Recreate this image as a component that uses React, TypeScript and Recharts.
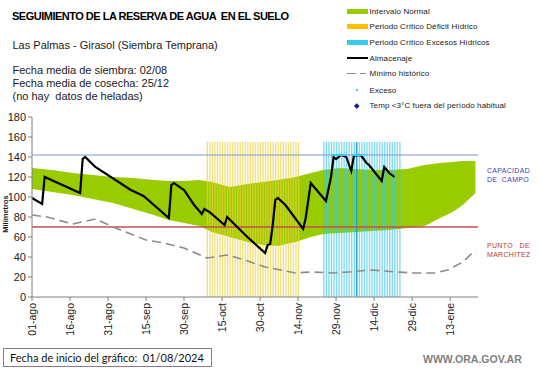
import { ComposedChart, Area, Bar, Line, Scatter, XAxis, YAxis, ReferenceLine } from 'recharts';

const FONT = '"Liberation Sans", Arial, sans-serif';

// days counted from 01/08/2024
const TICK_DAYS = [0, 15, 30, 45, 60, 75, 90, 105, 120, 135, 150, 165];
const TICK_LABELS = ['01-ago', '16-ago', '31-ago', '15-sep', '30-sep', '15-oct', '30-oct', '14-nov', '29-nov', '14-dic', '29-dic', '13-ene'];
const Y_TICKS = [0, 20, 40, 60, 80, 100, 120, 140, 160, 180];

// Intervalo Normal
const BAND_DAYS = [0, 8, 16, 24, 32, 40, 48, 54, 60, 66, 71, 78, 85, 91, 97, 104, 110, 115, 121, 128, 134, 141, 148, 155, 161, 166, 170, 175];
const BAND_LOW = [108, 105, 102, 98, 94, 88, 82, 77, 74, 71, 65, 60, 55, 52, 51, 55, 60, 63, 64, 65, 66, 67, 69, 71, 79, 85, 92, 104];
const BAND_HIGH = [129, 127, 124, 122, 120, 119, 117, 116, 116, 117, 115, 110, 113, 115, 117, 120, 124, 127, 129, 128, 127, 127, 128, 132, 134, 135, 136, 136];

// Almacenaje
const STORAGE_DAYS = [0, 4, 5, 19, 20, 21, 25, 39, 44, 54, 55, 56, 60, 64, 67, 68, 70, 76, 77, 79, 85, 92, 93, 94, 95, 96, 97, 100, 107, 108, 110, 116, 118, 119, 120, 121, 122, 124, 126, 127, 129, 130, 132, 133, 138, 139, 141, 143];
const STORAGE_VALUES = [99, 93, 120, 104, 138, 140, 130, 107, 101, 79, 112, 114, 107, 92, 83, 88, 85, 72, 80, 75, 60, 44, 52, 53, 72, 97, 99, 92, 68, 79, 114, 96, 120, 140, 138, 140, 142, 140, 126, 141, 142, 141, 134, 132, 116, 130, 124, 120];

// Mínimo histórico
const MIN_DAYS = [0, 6, 16, 25, 33, 45, 52, 60, 69, 77, 84, 92, 104, 110, 119, 125, 134, 144, 151, 159, 164, 170, 175];
const MIN_VALUES = [82, 80, 73, 78, 69, 57, 54, 49, 39, 42, 37, 30, 24, 25, 24, 25, 27, 25, 24, 24, 27, 35, 47];

// critical periods (first and last day)
const DEFICIT_PERIOD = [69, 105];
const EXCESS_PERIOD = [115, 145];
const CRITICAL_TOP = 155;
const HIGHLIGHT_DAY = 128;

// Exceso markers
const EXCESO_DAYS = [119, 120, 121, 122, 123, 127, 128, 129, 130];
const EXCESO_VALUE = 142;

const FIELD_CAPACITY = 142;
const WILTING_POINT = 70;

const LEGEND = [
  { label: 'Intervalo Normal', kind: 'rect', color: '#99cc00' },
  { label: 'Periodo Crítico Déficit Hídrico', kind: 'rect', color: '#ffc000' },
  { label: 'Periodo Crítico Excesos Hídricos', kind: 'rect', color: '#33ccee' },
  { label: 'Almacenaje', kind: 'line', color: '#000' },
  { label: 'Mínimo histórico', kind: 'dash', color: '#8c8c8c' },
  { label: 'Exceso', kind: 'dot', color: '#33ccee' },
  { label: 'Temp <3°C fuera del período habitual', kind: 'diamond', color: '#1a1a9a' },
];
const LEGEND_ROWS = [11.7, 26.7, 42.7, 58.3, 73.3, 90, 105.7];

function buildRows() {
  const rows = new Map<number, any>();
  const row = (d: number) => {
    if (!rows.has(d)) rows.set(d, { day: d });
    return rows.get(d);
  };
  BAND_DAYS.forEach((d, i) => { row(d).band = [BAND_LOW[i], BAND_HIGH[i]]; });
  STORAGE_DAYS.forEach((d, i) => { row(d).storage = STORAGE_VALUES[i]; });
  MIN_DAYS.forEach((d, i) => { row(d).minimum = MIN_VALUES[i]; });
  for (let d = DEFICIT_PERIOD[0]; d <= DEFICIT_PERIOD[1]; d++) row(d).deficit = CRITICAL_TOP;
  for (let d = EXCESS_PERIOD[0]; d <= EXCESS_PERIOD[1]; d++) {
    if (d === HIGHLIGHT_DAY) row(d).highlight = CRITICAL_TOP;
    else row(d).excess = CRITICAL_TOP;
  }
  return [...rows.values()].sort((a, b) => a.day - b.day);
}

const rows = buildRows();
const excesoPoints = EXCESO_DAYS.map(d => ({ day: d, value: EXCESO_VALUE }));

const DateTick = ({ x, y, payload }: any) => {
  const label = TICK_LABELS[TICK_DAYS.indexOf(payload.value)];
  return (
    <text x={x} y={y} dy="0.35em" transform={`rotate(-90, ${x}, ${y})`} textAnchor="end" fontSize={10.5} fill="#222" fontFamily={FONT}>
      {label}
    </text>
  );
};

const ExcesoMark = ({ cx, cy }: any) => <rect x={cx - 1.5} y={cy - 1} width={3} height={2} fill="#33ccee" />;

function LegendMark({ kind, color }: { kind: string; color: string }) {
  if (kind === 'rect') return <div style={{ width: 21, height: 5, background: color }} />;
  if (kind === 'line') return <div style={{ width: 21, height: 2, background: color }} />;
  if (kind === 'dash') return (
    <div style={{ width: 21, display: 'flex', gap: 4 }}>
      <div style={{ width: 9, height: 1.5, background: color }} />
      <div style={{ width: 6, height: 1.5, background: color }} />
    </div>
  );
  if (kind === 'dot') return <div style={{ width: 21, display: 'flex', justifyContent: 'center' }}><div style={{ width: 2.5, height: 2.5, background: color }} /></div>;
  return <div style={{ width: 21, display: 'flex', justifyContent: 'center' }}><div style={{ width: 3.5, height: 3.5, background: color, transform: 'rotate(45deg)' }} /></div>;
}

export default function App() {
  const text = (top: number, left: number, fs: number, extra: any = {}) => ({
    position: 'absolute' as const, top, left, fontSize: fs, lineHeight: `${fs}px`, fontFamily: FONT, color: '#1a1a1a', whiteSpace: 'pre' as const, ...extra,
  });
  return (
    <div style={{ position: 'absolute', left: 0, top: 0, width: 541, height: 368, background: '#fff', overflow: 'hidden' }}>
      <ComposedChart width={541} height={368} data={rows} margin={{ top: 117, right: 63, bottom: 31, left: 10 }} style={{ position: 'absolute', left: 0, top: 0 }}>
        <XAxis
          dataKey="day"
          type="number"
          domain={[0, 176]}
          ticks={TICK_DAYS}
          interval={0}
          height={40}
          tick={<DateTick />}
          tickSize={4}
          stroke="#808080"
          allowDataOverflow
        />
        <YAxis
          domain={[0, 180]}
          ticks={Y_TICKS}
          interval={0}
          width={22}
          tickSize={4}
          stroke="#808080"
          tick={{ fontSize: 11, fill: '#222', fontFamily: FONT }}
        />
        <Area dataKey="band" stroke="none" fill="#99cc00" fillOpacity={1} connectNulls isAnimationActive={false} />
        <Bar dataKey="deficit" stackId="crit" barSize={1.4} fill="#f0cf3a" fillOpacity={0.65} isAnimationActive={false} />
        <Bar dataKey="excess" stackId="crit" barSize={1.4} fill="#2ec4e8" fillOpacity={0.6} isAnimationActive={false} />
        <Bar dataKey="highlight" stackId="crit" barSize={1.4} fill="#12a6cc" isAnimationActive={false} />
        <ReferenceLine y={FIELD_CAPACITY} stroke="#7f95cf" strokeWidth={1.2} />
        <ReferenceLine y={WILTING_POINT} stroke="#c0504d" strokeWidth={1.5} />
        <Line dataKey="minimum" stroke="#8c8c8c" strokeWidth={1.6} strokeDasharray="9 5" dot={false} connectNulls isAnimationActive={false} />
        <Scatter data={excesoPoints} dataKey="value" shape={<ExcesoMark />} isAnimationActive={false} />
        <Line dataKey="storage" stroke="#000" strokeWidth={2.2} dot={false} connectNulls isAnimationActive={false} />
      </ComposedChart>

      <div style={text(11.3, 12, 11, { fontWeight: 'bold', color: '#000', letterSpacing: -0.5 })}>SEGUIMIENTO DE LA RESERVA DE AGUA  EN EL SUELO</div>
      <div style={text(39.5, 12.5, 11)}>Las Palmas - Girasol (Siembra Temprana)</div>
      <div style={text(64.5, 12.5, 11)}>Fecha media de siembra: 02/08</div>
      <div style={text(77.5, 12.5, 11)}>Fecha media de cosecha: 25/12</div>
      <div style={text(90.5, 12.5, 11)}>(no hay  datos de heladas)</div>

      {LEGEND.map((item, i) => (
        <div key={item.label} style={{ position: 'absolute', left: 346.5, top: LEGEND_ROWS[i] - 5, height: 10, display: 'flex', alignItems: 'center', gap: 2 }}>
          <LegendMark kind={item.kind} color={item.color} />
          <span style={{ fontSize: 8, fontFamily: FONT, color: '#1a1a1a', letterSpacing: 0.1, whiteSpace: 'nowrap' }}>{item.label}</span>
        </div>
      ))}

      <div style={text(214, 5.5, 7.5, { fontWeight: 'bold', transform: 'translate(-50%, -50%) rotate(-90deg)' })}>Milímetros</div>

      <div style={text(167, 487, 7, { color: '#4040b8', letterSpacing: 0.3 })}>CAPACIDAD</div>
      <div style={text(175.5, 487, 7, { color: '#4040b8', letterSpacing: 0.3 })}>DE  CAMPO</div>
      <div style={text(242.3, 487, 7, { color: '#c0392b', letterSpacing: 0.3 })}>PUNTO   DE</div>
      <div style={text(251, 487, 7, { color: '#c0392b', letterSpacing: 0.3 })}>MARCHITEZ</div>

      <div style={{ position: 'absolute', left: 3, top: 348, width: 207, height: 17, border: '1px solid #8c7a8c', boxSizing: 'content-box' }} />
      <div style={text(352, 10, 11, { fontFamily: 'Lato, sans-serif', color: '#111' })}>Fecha de inicio del gráfico:  01/08/2024</div>
      <div style={text(353.5, 423, 10.5, { fontWeight: 'bold', color: '#7f7f7f' })}>WWW.ORA.GOV.AR</div>
    </div>
  );
}
